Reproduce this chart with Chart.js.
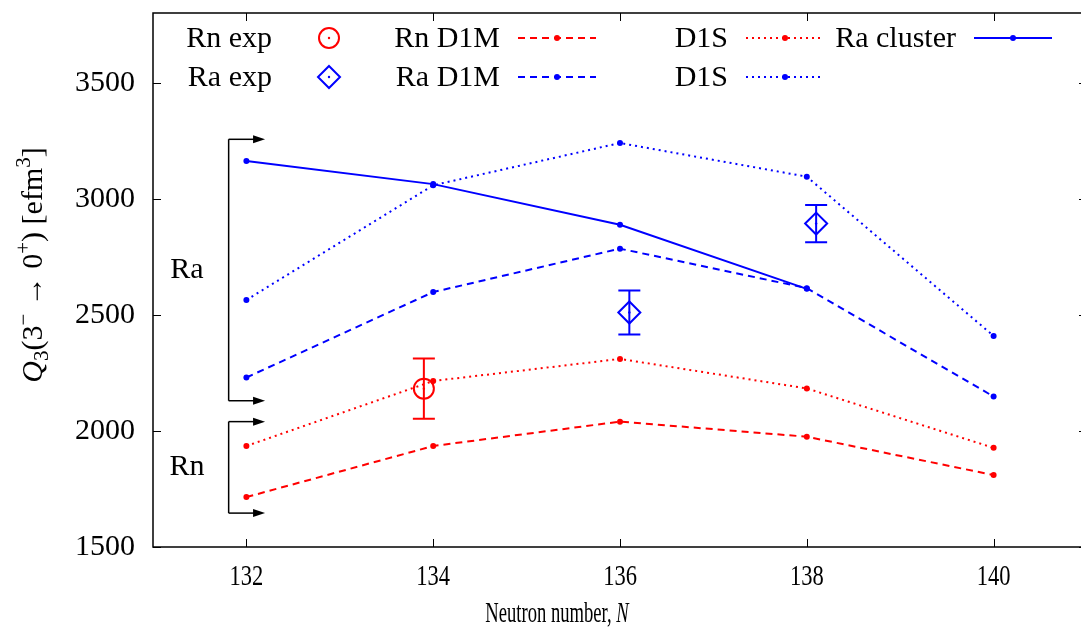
<!DOCTYPE html>
<html>
<head>
<meta charset="utf-8">
<script src="https://cdn.jsdelivr.net/npm/chart.js@4.4.0/dist/chart.umd.min.js"></script>
<style>
  html, body { margin: 0; padding: 0; background: #fff; overflow: hidden; }
  #wrap { width: 1100px; height: 632px; }
</style>
</head>
<body>
<div id="wrap"><canvas id="q3Chart" width="1100" height="632"></canvas></div>
<script>
// values
const neutrons = [132, 134, 136, 138, 140];
const rnD1M = [1715, 1935, 2040, 1975, 1810];
const rnD1S = [1935, 2215, 2310, 2183, 1927];
const raD1M = [2230, 2598, 2785, 2615, 2148];
const raD1S = [2564, 3058, 3240, 3095, 2409];
const clusterN = [132, 134, 136, 138];
const raCluster = [3163, 3063, 2888, 2612];

const rnExpN = [133.9];
const rnExp = [2182];
const rnExpErr = [130];
const raExpN = [136.1, 138.1];
const raExp = [2510, 2893];
const raExpErr = [95, 80];

const xTicks = [132, 134, 136, 138, 140];
const yTicks = [1500, 2000, 2500, 3000, 3500];

// bracket annotations on the left (value ranges)
const raBracket = [2130, 3256];
const rnBracket = [1646, 2040];

const RED = "#ff0000";
const BLUE = "#0000ff";
const SERIF = "'Liberation Serif', 'Times New Roman', serif";
const DASHED = [7, 5];
const DOTTED = [2, 4];

const pts = (xs, ys) => xs.map((x, i) => ({ x: x, y: ys[i] }));

function lineSet(label, xs, ys, color, dash, row, col) {
  return {
    label: label,
    data: pts(xs, ys),
    showLine: true,
    borderColor: color,
    backgroundColor: color,
    borderWidth: 2,
    borderDash: dash,
    pointRadius: 3,
    pointBorderWidth: 0,
    pointBackgroundColor: color,
    legendPos: { row: row, col: col, kind: "line" },
  };
}

const datasets = [
  lineSet("Ra cluster", clusterN, raCluster, BLUE, [], 0, 3),
  lineSet("D1S", neutrons, raD1S, BLUE, DOTTED, 1, 2),
  lineSet("Ra D1M", neutrons, raD1M, BLUE, DASHED, 1, 1),
  lineSet("D1S", neutrons, rnD1S, RED, DOTTED, 0, 2),
  lineSet("Rn D1M", neutrons, rnD1M, RED, DASHED, 0, 1),
  {
    label: "Rn exp",
    data: pts(rnExpN, rnExp),
    err: rnExpErr,
    showLine: false,
    pointStyle: "circle",
    pointRadius: 10,
    borderColor: RED,
    borderWidth: 2,
    backgroundColor: "rgba(0,0,0,0)",
    legendPos: { row: 0, col: 0, kind: "circle" },
  },
  {
    label: "Ra exp",
    data: pts(raExpN, raExp),
    err: raExpErr,
    showLine: false,
    pointStyle: "rectRot",
    pointRadius: 11,
    borderColor: BLUE,
    borderWidth: 2,
    backgroundColor: "rgba(0,0,0,0)",
    legendPos: { row: 1, col: 0, kind: "diamond" },
  },
];

function condensedText(ctx, parts, x, y, sx) {
  // parts: [{t, font}] drawn centered at x, horizontally squeezed by sx
  ctx.save();
  let w = 0;
  parts.forEach((p) => { ctx.font = p.font; w += ctx.measureText(p.t).width; });
  ctx.translate(x, y);
  ctx.scale(sx, 1);
  let cx = -w / 2;
  ctx.textAlign = "left";
  ctx.textBaseline = "middle";
  parts.forEach((p) => {
    ctx.font = p.font;
    ctx.fillText(p.t, cx, 0);
    cx += ctx.measureText(p.t).width;
  });
  ctx.restore();
}

function arrowRight(ctx, x0, x1, y) {
  ctx.beginPath();
  ctx.moveTo(x0, y);
  ctx.lineTo(x1 - 10, y);
  ctx.stroke();
  ctx.beginPath();
  ctx.moveTo(x1, y);
  ctx.lineTo(x1 - 12, y - 4);
  ctx.lineTo(x1 - 12, y + 4);
  ctx.closePath();
  ctx.fill();
}

function drawMarker(ctx, kind, color, x, y) {
  ctx.save();
  ctx.strokeStyle = color;
  ctx.fillStyle = color;
  ctx.lineWidth = 2;
  if (kind === "circle") {
    ctx.beginPath();
    ctx.arc(x, y, 10, 0, Math.PI * 2);
    ctx.stroke();
  } else if (kind === "diamond") {
    ctx.beginPath();
    ctx.moveTo(x, y - 11);
    ctx.lineTo(x + 11, y);
    ctx.lineTo(x, y + 11);
    ctx.lineTo(x - 11, y);
    ctx.closePath();
    ctx.stroke();
  }
  ctx.beginPath();
  ctx.arc(x, y, kind === "line" ? 3 : 1.2, 0, Math.PI * 2);
  ctx.fill();
  ctx.restore();
}

const framePlugin = {
  id: "frame",
  afterDatasetsDraw(chart) {
    const ctx = chart.ctx;
    const xs = chart.scales.x;
    const ys = chart.scales.y;
    // error bars and centre dots of the experimental points
    chart.data.datasets.forEach((ds) => {
      if (!ds.err) return;
      ctx.save();
      ctx.strokeStyle = ds.borderColor;
      ctx.fillStyle = ds.borderColor;
      ctx.lineWidth = 2;
      ds.data.forEach((p, i) => {
        const px = xs.getPixelForValue(p.x);
        const yTop = ys.getPixelForValue(p.y + ds.err[i]);
        const yBot = ys.getPixelForValue(p.y - ds.err[i]);
        ctx.beginPath();
        ctx.moveTo(px, yTop); ctx.lineTo(px, yBot);
        ctx.moveTo(px - 11, yTop); ctx.lineTo(px + 11, yTop);
        ctx.moveTo(px - 11, yBot); ctx.lineTo(px + 11, yBot);
        ctx.stroke();
        ctx.beginPath();
        ctx.arc(px, ys.getPixelForValue(p.y), 1.2, 0, Math.PI * 2);
        ctx.fill();
      });
      ctx.restore();
    });
  },
  afterDraw(chart) {
    const ctx = chart.ctx;
    const a = chart.chartArea;
    const xs = chart.scales.x;
    const ys = chart.scales.y;

    // box and inward ticks
    ctx.save();
    ctx.strokeStyle = "#000";
    ctx.lineWidth = 1.5;
    ctx.strokeRect(a.left, a.top, a.right - a.left, a.bottom - a.top);
    ctx.beginPath();
    xTicks.forEach((v) => {
      const px = Math.round(xs.getPixelForValue(v)) + 0.5;
      ctx.moveTo(px, a.bottom); ctx.lineTo(px, a.bottom - 8);
      ctx.moveTo(px, a.top); ctx.lineTo(px, a.top + 8);
    });
    yTicks.forEach((v) => {
      const py = Math.round(ys.getPixelForValue(v)) + 0.5;
      ctx.moveTo(a.left, py); ctx.lineTo(a.left + 8, py);
      ctx.moveTo(a.right, py); ctx.lineTo(a.right - 8, py);
    });
    ctx.lineWidth = 1;
    ctx.stroke();
    ctx.restore();

    // x tick labels and title (squeezed like the original)
    ctx.save();
    ctx.fillStyle = "#000";
    xTicks.forEach((v) => {
      condensedText(ctx, [{ t: String(v), font: "30px " + SERIF }], xs.getPixelForValue(v), 577, 0.75);
    });
    condensedText(ctx, [
      { t: "Neutron number, ", font: "30px " + SERIF },
      { t: "N", font: "italic 30px " + SERIF },
    ], 557, 614, 0.62);
    ctx.restore();

    // y title: Q3(3- -> 0+) [efm3]
    ctx.save();
    ctx.fillStyle = "#000";
    ctx.translate(32, 265);
    ctx.rotate(-Math.PI / 2);
    const big = "30px " + SERIF;
    const small = "21px " + SERIF;
    const parts = [
      { t: "Q", font: "italic " + big, dy: 0 },
      { t: "3", font: small, dy: 6 },
      { t: "(3", font: big, dy: 0 },
      { t: "\u2212", font: small, dy: -12 },
      { t: " \u2192 0", font: big, dy: 0 },
      { t: "+", font: small, dy: -12 },
      { t: ") [efm", font: big, dy: 0 },
      { t: "3", font: small, dy: -12 },
      { t: "]", font: big, dy: 0 },
    ];
    let tw = 0;
    parts.forEach((p) => { ctx.font = p.font; tw += ctx.measureText(p.t).width; });
    let cx = -tw / 2;
    ctx.textBaseline = "alphabetic";
    ctx.textAlign = "left";
    parts.forEach((p) => {
      ctx.font = p.font;
      ctx.fillText(p.t, cx, 10 + p.dy);
      cx += ctx.measureText(p.t).width;
    });
    ctx.restore();

    // brackets with arrows (Ra / Rn)
    ctx.save();
    ctx.strokeStyle = "#000";
    ctx.fillStyle = "#000";
    ctx.lineWidth = 1.5;
    const bx0 = xs.getPixelForValue(131.81);
    const bx1 = xs.getPixelForValue(132.2);
    [[raBracket, "Ra"], [rnBracket, "Rn"]].forEach(([rng, lab]) => {
      const yLo = ys.getPixelForValue(rng[0]);
      const yHi = ys.getPixelForValue(rng[1]);
      ctx.beginPath();
      ctx.moveTo(bx0, yHi); ctx.lineTo(bx0, yLo);
      ctx.stroke();
      arrowRight(ctx, bx0, bx1, yHi);
      arrowRight(ctx, bx0, bx1, yLo);
      ctx.font = "30px " + SERIF;
      ctx.textAlign = "center";
      ctx.textBaseline = "middle";
      ctx.fillText(lab, 187, (yLo + yHi) / 2);
    });
    ctx.restore();

    // legend built from the datasets
    ctx.save();
    chart.data.datasets.forEach((ds) => {
      const lp = ds.legendPos;
      const textRight = 272 + 228 * lp.col;
      const y = 38 + 39 * lp.row;
      ctx.fillStyle = "#000";
      ctx.font = "30px " + SERIF;
      ctx.textAlign = "right";
      ctx.textBaseline = "middle";
      ctx.fillText(ds.label, textRight, y + 1);
      const sx0 = textRight + 18;
      const sx1 = textRight + 96;
      const mid = textRight + 57;
      if (lp.kind === "line") {
        ctx.strokeStyle = ds.borderColor;
        ctx.lineWidth = 2;
        ctx.setLineDash(ds.borderDash);
        ctx.beginPath();
        ctx.moveTo(sx0, y); ctx.lineTo(sx1, y);
        ctx.stroke();
        ctx.setLineDash([]);
      }
      drawMarker(ctx, lp.kind, ds.borderColor, mid, y);
    });
    ctx.restore();
  },
};

const q3Chart = new Chart(document.getElementById("q3Chart").getContext("2d"), {
  type: "scatter",
  data: { datasets: datasets },
  options: {
    responsive: false,
    animation: false,
    layout: { padding: { top: 10, right: 7, left: 0, bottom: 0 } },
    scales: {
      x: {
        type: "linear",
        min: 131,
        max: 141,
        grid: { display: false, drawTicks: false },
        border: { display: false },
        ticks: { display: false },
        afterFit: (scale) => {
          scale.height = 85;
          scale.paddingLeft = 0;
          scale.paddingRight = 0;
        },
      },
      y: {
        type: "linear",
        min: 1500,
        max: 3800,
        grid: { display: false, drawTicks: false },
        border: { display: false },
        afterBuildTicks: (scale) => { scale.ticks = yTicks.map((v) => ({ value: v })); },
        ticks: {
          color: "#000",
          padding: 18,
          font: { family: SERIF, size: 30 },
          callback: (v) => String(v),
        },
        afterFit: (scale) => {
          scale.width = 153;
          scale.paddingTop = 0;
          scale.paddingBottom = 0;
        },
      },
    },
    plugins: {
      legend: { display: false },
      tooltip: { enabled: false },
    },
  },
  plugins: [framePlugin],
});
</script>
</body>
</html>
